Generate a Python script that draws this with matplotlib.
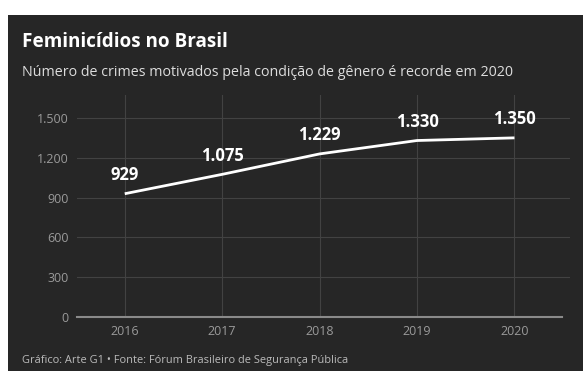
import matplotlib.pyplot as plt
from matplotlib.patches import Rectangle

# Dados
anos = [2016, 2017, 2018, 2019, 2020]
casos = [929, 1075, 1229, 1330, 1350]
rotulos = ["929", "1.075", "1.229", "1.330", "1.350"]
y_ticks = [0, 300, 600, 900, 1200, 1500]
y_labels = ["0", "300", "600", "900", "1.200", "1.500"]

W, H = 583, 371
bg = "#262626"
plt.rcParams['font.family'] = ['Open Sans', 'DejaVu Sans']

fig = plt.figure(figsize=(W / 100, H / 100), dpi=100)
fig.patch.set_facecolor("white")
fig.patches.append(Rectangle((8 / W, 0), (W - 8) / W, (H - 15) / H,
                             transform=fig.transFigure, facecolor=bg,
                             edgecolor="none", zorder=-10))

ax = fig.add_axes([77 / W, 1 - 317 / H, 493 / W, (317 - 95) / H])
ax.patch.set_alpha(0)

ax.plot(anos, casos, color="white", lw=2, solid_capstyle="butt", zorder=3)
for x, y, t in zip(anos, casos, rotulos):
    ax.annotate(t, (x, y), xytext=(0, 7), textcoords="offset points",
                ha="center", va="bottom", color="white", fontsize=12,
                fontweight="bold")

ax.set_xlim(2015.51, 2020.57)
ax.set_ylim(0, 1673)
ax.set_yticks(y_ticks)
ax.set_yticklabels(y_labels)
ax.set_xticks(anos)
ax.set_xticklabels([str(a) for a in anos])
ax.tick_params(length=0, colors="#9a9a9a", labelsize=9)
ax.tick_params(axis="y", pad=6)
ax.tick_params(axis="x", pad=6)
ax.grid(True, color="#424242", lw=0.8)
ax.set_axisbelow(True)
for s in ax.spines.values():
    s.set_visible(False)
ax.plot([2015.51, 2020.49], [0, 0], color="#8a8a8a", lw=1.5, zorder=2,
        clip_on=False)

fig.text(22 / W, 1 - 42 / H, "Feminicídios no Brasil", color="white",
         fontsize=13.6, fontweight="bold", va="center", ha="left")
fig.text(22 / W, 1 - 73 / H,
         "Número de crimes motivados pela condição de gênero é recorde em 2020",
         color="#dddddd", fontsize=10.3, va="center", ha="left")
fig.text(22 / W, 1 - 360 / H,
         "Gráfico: Arte G1 • Fonte: Fórum Brasileiro de Segurança Pública",
         color="#bbbbbb", fontsize=7.9, va="center", ha="left")

fig.savefig("out.png", dpi=100, facecolor=fig.get_facecolor())
